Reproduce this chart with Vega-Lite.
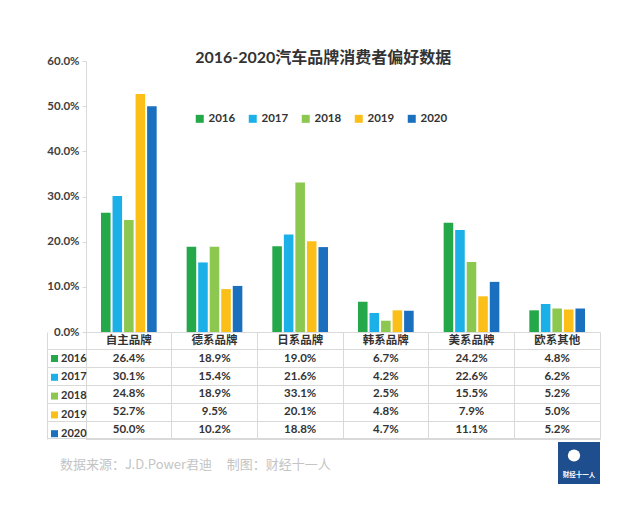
{
  "$schema": "https://vega.github.io/schema/vega-lite/v6.json",
  "background": "white",
  "padding": {"left": 46, "top": 50, "right": 40, "bottom": 5},
  "title": {
    "text": "2016-2020汽车品牌消费者偏好数据",
    "font": "Lato, Noto Sans CJK SC",
    "fontSize": 16,
    "fontWeight": "bold",
    "color": "#333333",
    "anchor": "middle",
    "offset": -11
  },
  "config": {"view": {"stroke": null}, "font": "Lato, Noto Sans CJK SC"},
  "spacing": 0,
  "bounds": "flush",
  "resolve": {"legend": {"color": "independent"}},
  "datasets": {
    "prefs": [
      {"brand": "自主品牌", "year": "2016", "value": 0.264},
      {"brand": "德系品牌", "year": "2016", "value": 0.189},
      {"brand": "日系品牌", "year": "2016", "value": 0.190},
      {"brand": "韩系品牌", "year": "2016", "value": 0.067},
      {"brand": "美系品牌", "year": "2016", "value": 0.242},
      {"brand": "欧系其他", "year": "2016", "value": 0.048},
      {"brand": "自主品牌", "year": "2017", "value": 0.301},
      {"brand": "德系品牌", "year": "2017", "value": 0.154},
      {"brand": "日系品牌", "year": "2017", "value": 0.216},
      {"brand": "韩系品牌", "year": "2017", "value": 0.042},
      {"brand": "美系品牌", "year": "2017", "value": 0.226},
      {"brand": "欧系其他", "year": "2017", "value": 0.062},
      {"brand": "自主品牌", "year": "2018", "value": 0.248},
      {"brand": "德系品牌", "year": "2018", "value": 0.189},
      {"brand": "日系品牌", "year": "2018", "value": 0.331},
      {"brand": "韩系品牌", "year": "2018", "value": 0.025},
      {"brand": "美系品牌", "year": "2018", "value": 0.155},
      {"brand": "欧系其他", "year": "2018", "value": 0.052},
      {"brand": "自主品牌", "year": "2019", "value": 0.527},
      {"brand": "德系品牌", "year": "2019", "value": 0.095},
      {"brand": "日系品牌", "year": "2019", "value": 0.201},
      {"brand": "韩系品牌", "year": "2019", "value": 0.048},
      {"brand": "美系品牌", "year": "2019", "value": 0.079},
      {"brand": "欧系其他", "year": "2019", "value": 0.050},
      {"brand": "自主品牌", "year": "2020", "value": 0.500},
      {"brand": "德系品牌", "year": "2020", "value": 0.102},
      {"brand": "日系品牌", "year": "2020", "value": 0.188},
      {"brand": "韩系品牌", "year": "2020", "value": 0.047},
      {"brand": "美系品牌", "year": "2020", "value": 0.111},
      {"brand": "欧系其他", "year": "2020", "value": 0.052}
    ]
  },
  "vconcat": [
    {
      "width": 514,
      "height": 271,
      "data": {"name": "prefs"},
      "mark": {"type": "bar"},
      "encoding": {
        "x": {
          "field": "brand", "type": "nominal",
          "sort": ["自主品牌", "德系品牌", "日系品牌", "韩系品牌", "美系品牌", "欧系其他"],
          "scale": {"paddingInner": 0.35, "paddingOuter": 0.175},
          "axis": {"labels": false, "ticks": false, "domain": false, "title": null}
        },
        "xOffset": {"field": "year", "type": "nominal", "scale": {"paddingInner": 0.17}},
        "y": {
          "field": "value", "type": "quantitative",
          "scale": {"domain": [0, 0.6]},
          "axis": {
            "values": [0, 0.1, 0.2, 0.3, 0.4, 0.5, 0.6],
            "format": ".1%",
            "title": null,
            "grid": false,
            "domainColor": "#d9d9d9",
            "tickColor": "#d9d9d9",
            "tickSize": 4,
            "labelFont": "Lato",
            "labelFontWeight": "bold",
            "labelFontSize": 11.5,
            "labelColor": "#404040",
            "labelPadding": 3
          }
        },
        "color": {
          "field": "year", "type": "nominal",
          "scale": {
            "domain": ["2016", "2017", "2018", "2019", "2020"],
            "range": ["#24a84a", "#1cb0e8", "#8cc850", "#fbbf18", "#1b6fbf"]
          },
          "legend": {
            "title": null,
            "orient": "none",
            "legendX": 108,
            "legendY": 51.7,
            "direction": "horizontal",
            "symbolType": "square",
            "symbolSize": 64,
            "symbolStrokeWidth": 0,
            "labelFont": "Lato",
            "labelFontWeight": "bold",
            "labelFontSize": 11.5,
            "labelColor": "#333333",
            "labelOffset": 3,
            "columnPadding": 11,
            "padding": 0
          }
        }
      }
    },
    {
      "width": 514,
      "height": 107,
      "view": {"stroke": "#d9d9d9"},
      "layer": [
        {
          "data": {"name": "prefs"},
          "mark": {"type": "text", "font": "Lato", "fontWeight": "bold", "fontSize": 11.5, "color": "#333333"},
          "encoding": {
            "x": {
              "field": "brand", "type": "nominal",
              "sort": ["自主品牌", "德系品牌", "日系品牌", "韩系品牌", "美系品牌", "欧系其他"],
              "scale": {"type": "band", "padding": 0},
              "axis": {"grid": true, "bandPosition": 0, "gridColor": "#d9d9d9", "labels": false, "ticks": false, "domain": false, "title": null}
            },
            "y": {
              "field": "year", "type": "nominal",
              "scale": {"type": "band", "domain": ["header", "2016", "2017", "2018", "2019", "2020"], "padding": 0},
              "axis": {"grid": true, "bandPosition": 1, "gridColor": "#d9d9d9", "offset": 39, "ticks": true, "tickSize": -39, "tickColor": "#d9d9d9", "domain": true, "domainColor": "#d9d9d9", "labels": false, "title": null}
            },
            "text": {"field": "value", "type": "quantitative", "format": ".1%"}
          }
        },
        {
          "data": {"name": "prefs"},
          "transform": [{"filter": "datum.year == '2016'"}],
          "mark": {"type": "text", "font": "Noto Sans CJK SC", "fontWeight": "bold", "fontSize": 11.5, "color": "#333333"},
          "encoding": {
            "x": {"field": "brand", "type": "nominal", "sort": ["自主品牌", "德系品牌", "日系品牌", "韩系品牌", "美系品牌", "欧系其他"]},
            "y": {"datum": "header", "type": "nominal"},
            "text": {"field": "brand", "type": "nominal"}
          }
        },
        {
          "data": {"name": "prefs"},
          "mark": {"type": "point", "filled": true, "opacity": 0},
          "encoding": {
            "x": {"field": "brand", "type": "nominal", "sort": ["自主品牌", "德系品牌", "日系品牌", "韩系品牌", "美系品牌", "欧系其他"]},
            "y": {"field": "year", "type": "nominal"},
            "color": {
              "field": "year", "type": "nominal",
              "scale": {
                "domain": ["2016", "2017", "2018", "2019", "2020"],
                "range": ["#24a84a", "#1cb0e8", "#8cc850", "#fbbf18", "#1b6fbf"]
              },
              "legend": {
                "title": null,
                "orient": "none",
                "legendX": -37,
                "legendY": 21,
                "direction": "vertical",
                "symbolType": "square",
                "symbolSize": 49,
                "symbolOpacity": 1,
                "symbolStrokeWidth": 0,
                "labelFont": "Lato",
                "labelFontWeight": "bold",
                "labelFontSize": 11,
                "labelColor": "#333333",
                "labelOffset": 1,
                "rowPadding": 6.8,
                "padding": 0
              }
            }
          }
        },
        {
          "data": {"values": [{"source": "数据来源：J.D.Power君迪\u00a0\u00a0\u00a0\u00a0\u00a0制图：财经十一人"}]},
          "mark": {"type": "text", "align": "left", "baseline": "middle", "font": "Noto Sans CJK SC", "fontSize": 13, "color": "#c4c4c4"},
          "encoding": {"x": {"value": -26}, "y": {"value": 133}, "text": {"field": "source"}}
        },
        {
          "data": {"values": [{"logo": "财经十一人"}]},
          "mark": {"type": "square", "color": "#1f4e8f", "opacity": 1, "size": 1764},
          "encoding": {"x": {"value": 493}, "y": {"value": 131}}
        },
        {
          "data": {"values": [{"logo": "财经十一人"}]},
          "mark": {"type": "circle", "color": "#ffffff", "opacity": 1, "size": 150},
          "encoding": {"x": {"value": 488}, "y": {"value": 123.5}}
        },
        {
          "data": {"values": [{"logo": "财经十一人"}]},
          "mark": {"type": "text", "color": "#ffffff", "font": "Noto Sans CJK SC", "fontSize": 6.5, "fontWeight": "bold"},
          "encoding": {"x": {"value": 493}, "y": {"value": 142.5}, "text": {"field": "logo"}}
        }
      ]
    }
  ]
}
